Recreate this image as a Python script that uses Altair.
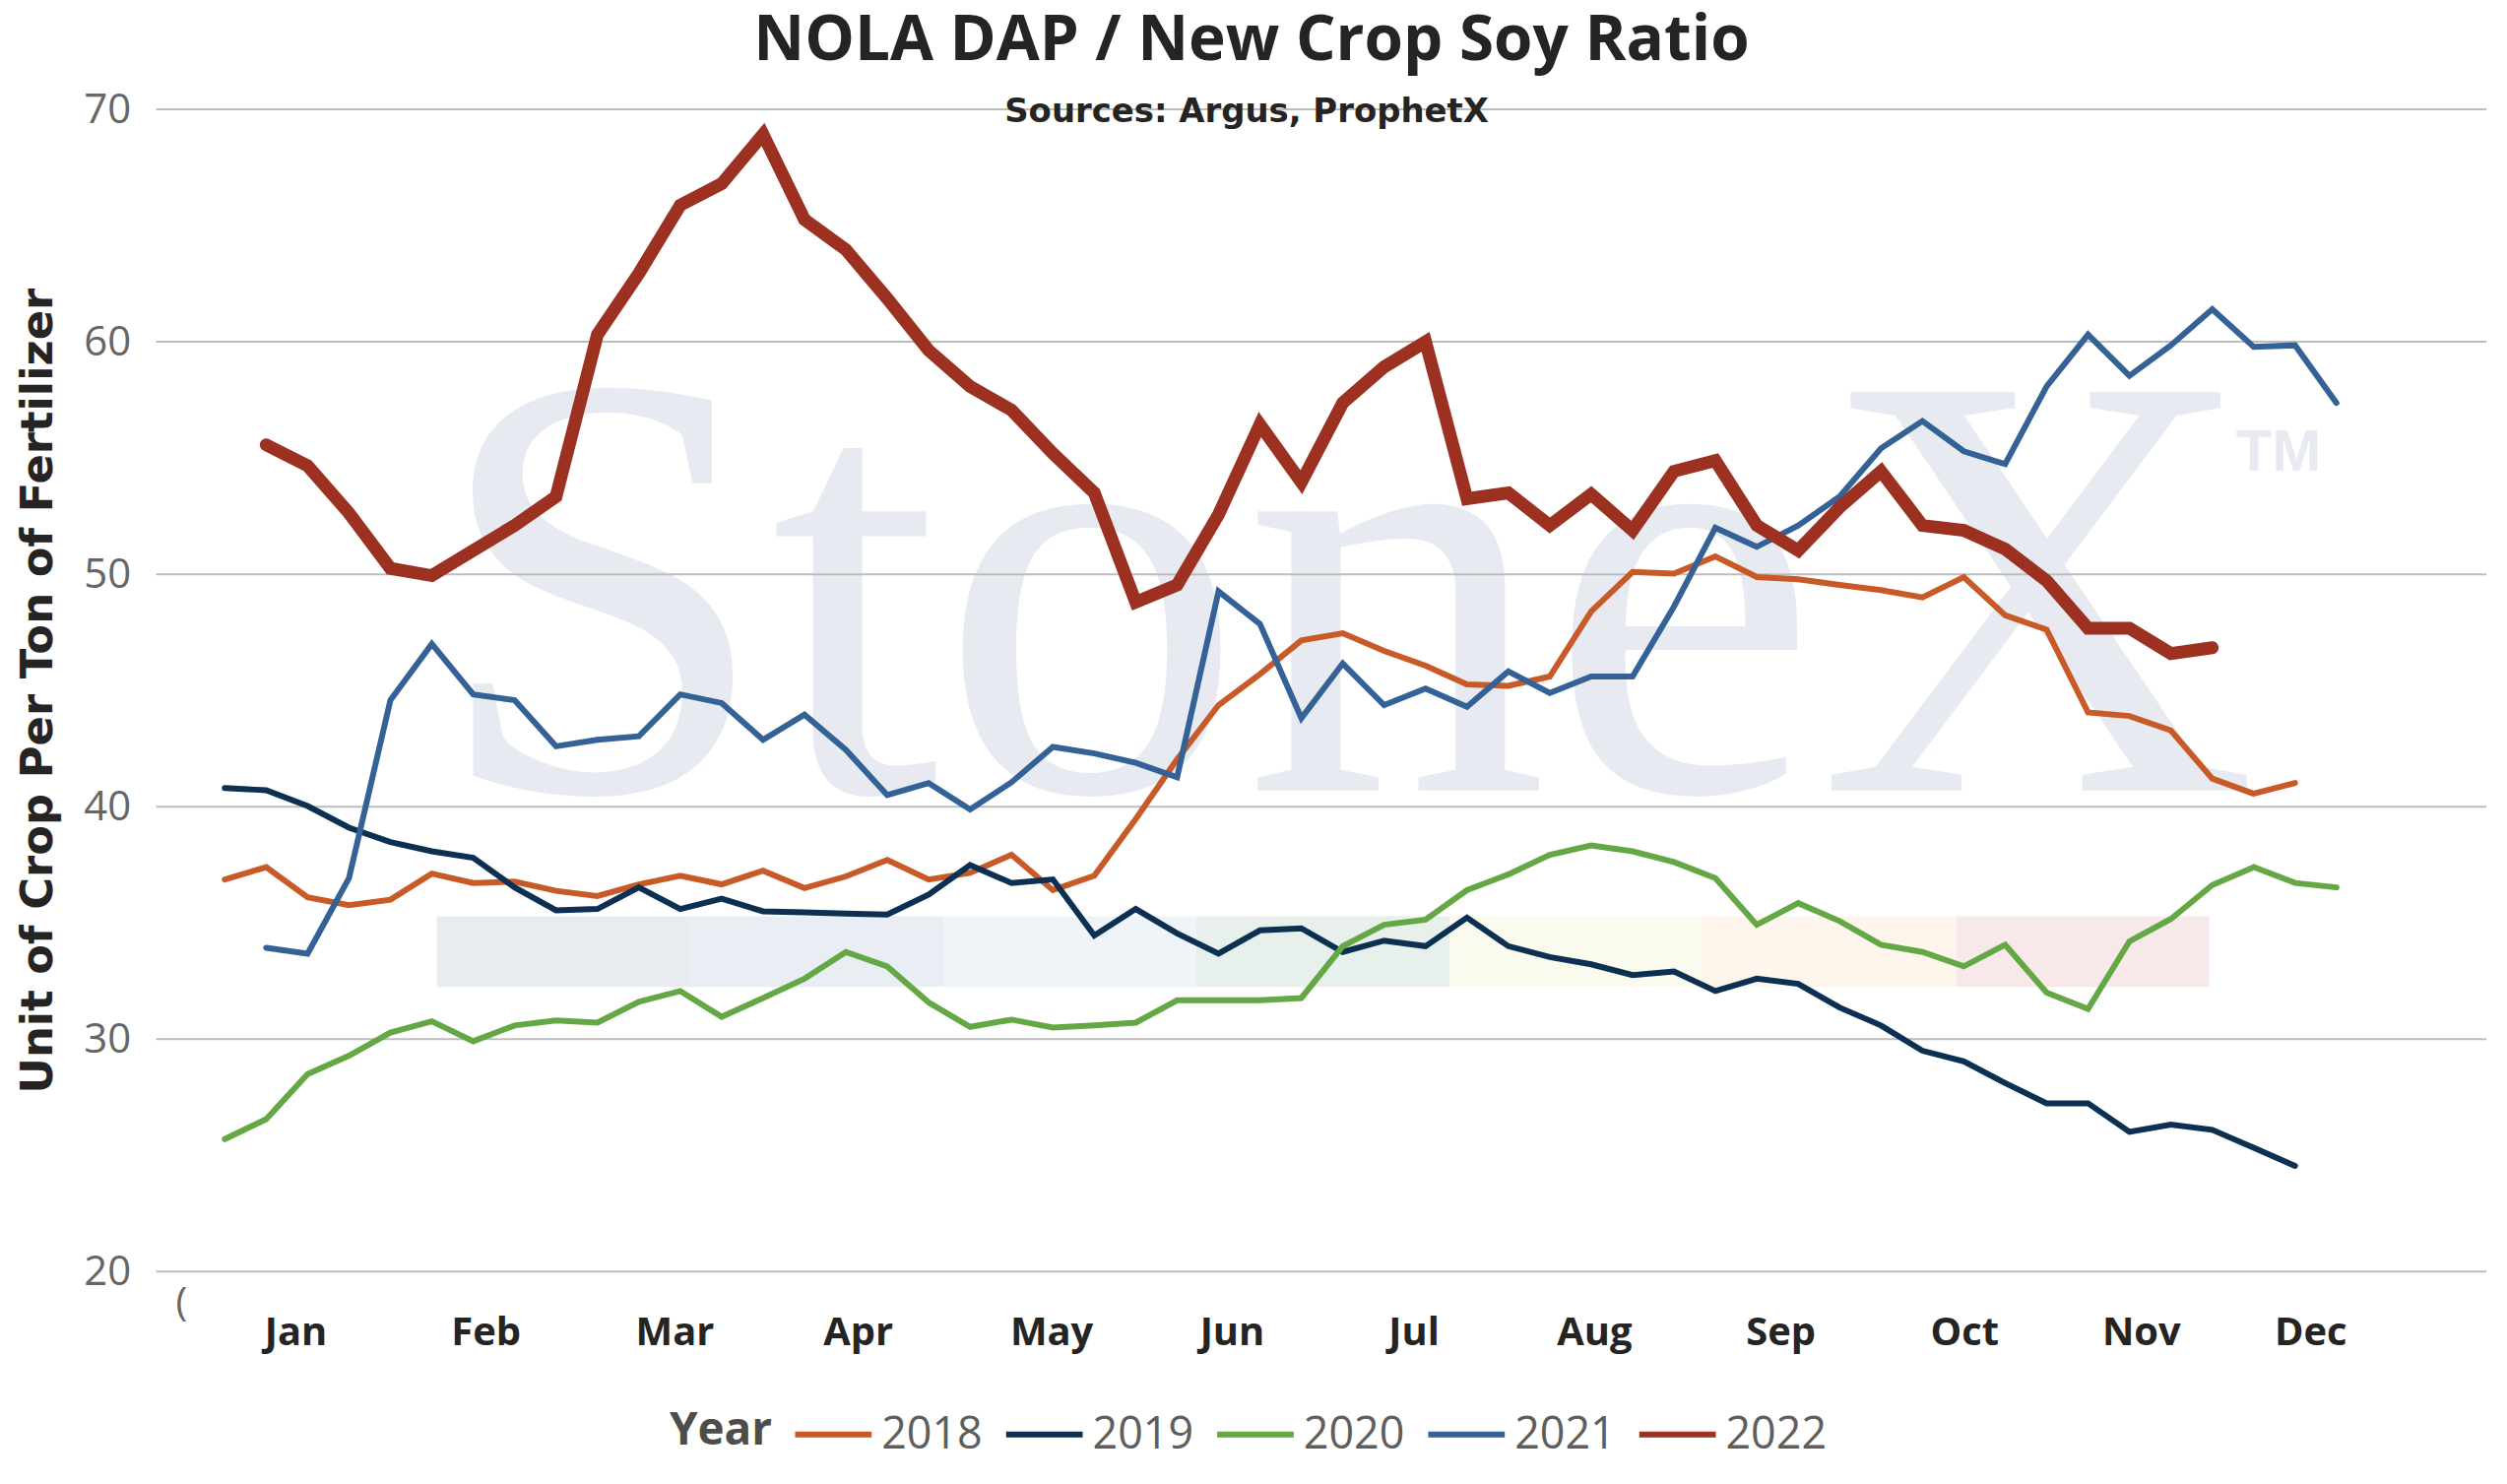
import altair as alt
import pandas as pd

# ---------------- data ----------------
YEARS = ["2018", "2019", "2020", "2021", "2022"]
COLORS = ["#C85A28", "#0B3052", "#64A846", "#346296", "#9C3122"]
MONTHS = ["Jan", "Feb", "Mar", "Apr", "May", "Jun", "Jul", "Aug", "Sep", "Oct", "Nov", "Dec"]
Y_TICKS = [20, 30, 40, 50, 60, 70]

V2018 = [36.87, 37.4, 36.1, 35.76, 36.0, 37.12, 36.72, 36.78, 36.38, 36.16,
         36.66, 37.03, 36.66, 37.25, 36.5, 37.0, 37.71, 36.87, 37.15, 37.93,
         36.41, 37.03, 39.47, 42.04, 44.37, 45.7, 47.15, 47.46, 46.7, 46.07,
         45.26, 45.2, 45.6, 48.4, 50.1, 50.03, 50.77, 49.88, 49.78, 49.54,
         49.32, 49.0, 49.88, 48.23, 47.62, 44.06, 43.9, 43.28, 41.21, 40.56, 41.02]
V2019 = [40.8, 40.71, 40.03, 39.1, 38.48, 38.08, 37.8, 36.53, 35.54, 35.6,
         36.53, 35.6, 36.04, 35.5, 35.45, 35.4, 35.36, 36.22, 37.49, 36.72,
         36.87, 34.46, 35.6, 34.55, 33.68, 34.68, 34.77, 33.75, 34.24, 34.0,
         35.23, 34.0, 33.53, 33.22, 32.76, 32.91, 32.07, 32.6, 32.38, 31.36,
         30.59, 29.5, 29.04, 28.11, 27.24, 27.24, 26.01, 26.32, 26.1, 25.33, 24.55]
V2020 = [25.7, 26.56, 28.5, 29.29, 30.28, 30.77, 29.91, 30.59, 30.8, 30.71,
         31.61, 32.07, 30.96, 31.77, 32.6, 33.75, 33.13, 31.58, 30.53, 30.84,
         30.5, 30.59, 30.71, 31.67, 31.67, 31.67, 31.77, 34.0, 34.92, 35.14,
         36.41, 37.09, 37.93, 38.33, 38.08, 37.62, 36.93, 34.92, 35.85, 35.08,
         34.06, 33.75, 33.13, 34.06, 32.0, 31.3, 34.21, 35.17, 36.63, 37.4, 36.72, 36.53]
V2021 = [33.93, 33.68, 36.93, 44.58, 47.0, 44.83, 44.58, 42.6, 42.88, 43.03,
         44.83, 44.46, 42.88, 43.96, 42.45, 40.5, 41.02, 39.88, 41.05, 42.57,
         42.29, 41.89, 41.27, 49.26, 47.86, 43.81, 46.16, 44.37, 45.08, 44.3,
         45.82, 44.89, 45.6, 45.6, 48.61, 52.0, 51.18, 52.1, 53.34, 55.42,
         56.59, 55.29, 54.74, 58.08, 60.31, 58.54, 59.85, 61.4, 59.78, 59.85, 57.37]
V2022 = [55.57, 54.67, 52.63, 50.25, 49.94, 51.02, 52.1, 53.34, 60.31, 62.94,
         65.88, 66.8, 68.92, 65.26, 63.96, 61.86, 59.63, 58.08, 57.06, 55.2,
         53.5, 48.8, 49.54, 52.57, 56.44, 53.96, 57.37, 58.92, 60.0, 53.25,
         53.5, 52.1, 53.44, 51.89, 54.43, 54.89, 52.1, 51.02, 52.88, 54.43,
         52.1, 51.89, 51.08, 49.72, 47.68, 47.68, 46.59, 46.84]
FIRST_WEEK = {"2018": 0, "2019": 0, "2020": 0, "2021": 1, "2022": 1}
SERIES = {"2018": V2018, "2019": V2019, "2020": V2020, "2021": V2021, "2022": V2022}

TITLE = "NOLA DAP / New Crop Soy Ratio"
SUBTITLE = "Sources: Argus, ProphetX"
Y_TITLE = "Unit of Crop Per Ton of Fertilizer"
LEGEND_TITLE = "Year"

rows = []
for yr in YEARS:
    for k, v in enumerate(SERIES[yr]):
        rows.append({"year": yr, "week": FIRST_WEEK[yr] + k, "ratio": v})
df = pd.DataFrame(rows)

# ---------------- layout ----------------
W, H = 2374, 1184
xscale = alt.Scale(domain=[-1.659, 54.62], nice=False, zero=False)
yscale = alt.Scale(domain=[20, 70], nice=False, zero=False)

# month label positions on the week axis (as placed in the original)
MONTH_POS = [1.707, 6.30, 10.86, 15.29, 19.96, 24.32, 28.71, 33.07, 37.57, 42.01, 46.28, 50.37]
label_expr = ("[" + ",".join("'%s'" % m for m in MONTHS) + "][indexof(["
              + ",".join(str(p) for p in MONTH_POS) + "], datum.value)]")

x_axis = alt.Axis(
    values=MONTH_POS, labelExpr=label_expr, title=None,
    labelFont="Open Sans", labelFontWeight="bold", labelFontSize=40, labelColor="#252423",
    labelPadding=42, grid=False, domain=False, ticks=False, labelFlush=False, labelOverlap=False)
y_axis = alt.Axis(
    values=Y_TICKS, title=Y_TITLE, titleFont="DejaVu Sans", titleFontWeight="bold",
    titleFontSize=45, titleColor="#252423", titlePadding=23,
    labelFont="Open Sans", labelFontSize=42, labelColor="#666666", labelPadding=26,
    grid=False, domain=False, ticks=False)

# watermark logo bands (decoration)
BAND_COLORS = ["#E8EBF0", "#E9EDF4", "#EFF4F8", "#E7F0EA", "#FAFAEF", "#FEF6EC", "#F7E9E9"]
B0, BW = 5.12, 6.115
bands = pd.DataFrame({
    "x0": [B0 + BW * k for k in range(7)],
    "x1": [B0 + BW * (k + 1) for k in range(7)],
    "y0": [35.29] * 7,
    "y1": [32.25] * 7,
    "c": BAND_COLORS,
})

band_layer = alt.Chart(bands).mark_rect().encode(
    x=alt.X("x0:Q", scale=xscale, axis=x_axis),
    x2="x1:Q",
    y=alt.Y("y0:Q", scale=yscale, axis=y_axis),
    y2="y1:Q",
    color=alt.Color("c:N", scale=None),
)

wm = alt.Chart(pd.DataFrame({"t": ["StoneX"]})).mark_text(
    font="Liberation Serif", fontSize=620, color="#E7EAF0", align="left", baseline="alphabetic"
).encode(x=alt.value(281), y=alt.value(694), text="t:N")

tm = alt.Chart(pd.DataFrame({"t": ["TM"]})).mark_text(
    font="Liberation Sans", fontWeight="bold", fontSize=60, color="#E7EAF0", align="left", baseline="alphabetic"
).encode(x=alt.value(2119), y=alt.value(368), text="t:N")

grid = alt.Chart(pd.DataFrame({"g": Y_TICKS})).mark_rule(color="#BDBDBD", strokeWidth=2).encode(
    y=alt.Y("g:Q", scale=yscale, axis=y_axis)
)

lines = alt.Chart(df).mark_line(strokeJoin="miter", strokeCap="round").encode(
    x=alt.X("week:Q", scale=xscale, axis=x_axis),
    y=alt.Y("ratio:Q", scale=yscale, axis=y_axis),
    color=alt.Color("year:N", scale=alt.Scale(domain=YEARS, range=COLORS), legend=alt.Legend(
        title=None, orient="none", legendX=648, legendY=1308, direction="horizontal",
        labelFont="Open Sans", labelFontSize=45, labelColor="#605E5C",
        symbolType="stroke", symbolSize=6084, symbolStrokeWidth=6, labelOffset=7,
        columnPadding=12)),
    strokeWidth=alt.condition(alt.datum.year == "2022", alt.value(13), alt.value(6)),
)

legend_title = alt.Chart(pd.DataFrame({"t": [LEGEND_TITLE]})).mark_text(
    font="Open Sans", fontWeight="bold", fontSize=46, color="#4D4D4D", align="left", baseline="alphabetic"
).encode(x=alt.value(523), y=alt.value(1360), text="t:N")

glyph = alt.Chart(pd.DataFrame({"t": ["("]})).mark_text(
    font="Open Sans", fontSize=40, color="#666666", align="left", baseline="alphabetic"
).encode(x=alt.value(20), y=alt.value(1229), text="t:N")

title = alt.Chart(pd.DataFrame({"t": [TITLE]})).mark_text(
    font="Open Sans", fontWeight="bold", fontSize=64, color="#252423", align="center", baseline="alphabetic"
).encode(x=alt.value(1116), y=alt.value(-50), text="t:N")

subtitle = alt.Chart(pd.DataFrame({"t": [SUBTITLE]})).mark_text(
    font="DejaVu Sans", fontWeight="bold", fontSize=34, color="#252423", align="center", baseline="alphabetic"
).encode(x=alt.value(1111), y=alt.value(13), text="t:N")

chart = alt.layer(band_layer, wm, tm, grid, lines, legend_title, glyph, title, subtitle).properties(
    width=W, height=H,
    padding={"left": 151, "top": 101, "right": 13, "bottom": 214},
    autosize=alt.AutoSizeParams(type="none"),
    background="white",
).configure_view(stroke=None)

chart.save("out.html", embed_options={"renderer": "svg", "actions": False})
